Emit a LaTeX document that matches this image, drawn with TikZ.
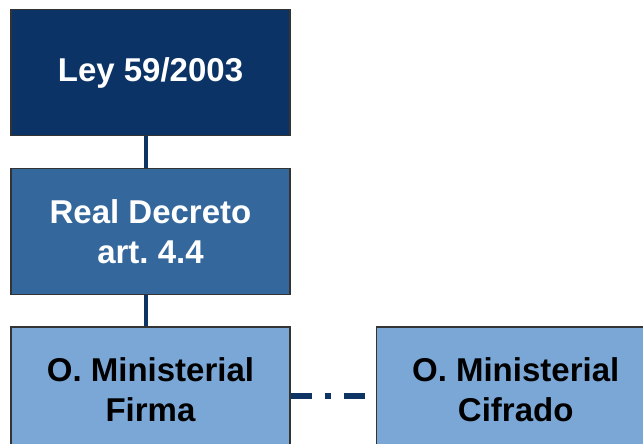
\documentclass[tikz,border=0pt]{standalone}
\usepackage{fontspec}
\setmainfont{Liberation Sans}
\usetikzlibrary{positioning}
\definecolor{lawblue}{HTML}{0C3365}
\definecolor{decblue}{HTML}{34679C}
\definecolor{ordblue}{HTML}{7BA7D6}
\definecolor{linkblue}{HTML}{0E3463}
\tikzset{box/.style={draw=black!80,line width=1.2pt,minimum width=279pt,minimum height=126pt,
    inner sep=0pt,align=center,font=\fontsize{33}{40}\selectfont\bfseries\frenchspacing},
  link/.style={linkblue,line width=4pt}}

\begin{document}
\begin{tikzpicture}[x=1pt,y=-1pt]
      \useasboundingbox (0,0) rectangle (643,444);
      \clip (0,0) rectangle (643,444);
      \node[box,fill=lawblue,text=white] (L0) at (150.5,72.5) {Ley 59/2003};
      \node[box,fill=decblue,text=white,below=32pt of L0] (L1) {Real Decreto\\art. 4.4};
      \node[box,fill=ordblue,text=black,below=31pt of L1] (L2) {O. Ministerial\\Firma};
      \node[box,fill=ordblue,text=black,right=85pt of L2] (L3) {O. Ministerial\\Cifrado};

      \draw[link] ([xshift=-5pt]L0.south) -- ([xshift=-5pt]L1.north);
      \draw[link] ([xshift=-5pt]L1.south) -- ([xshift=-5pt]L2.north);
      \draw[link,line width=5.5pt,dash pattern=on 21pt off 13pt on 6pt off 13pt]
        ([yshift=-6pt]L2.east) -- ([yshift=-6pt]L3.west);
    \end{tikzpicture}
\end{document}
